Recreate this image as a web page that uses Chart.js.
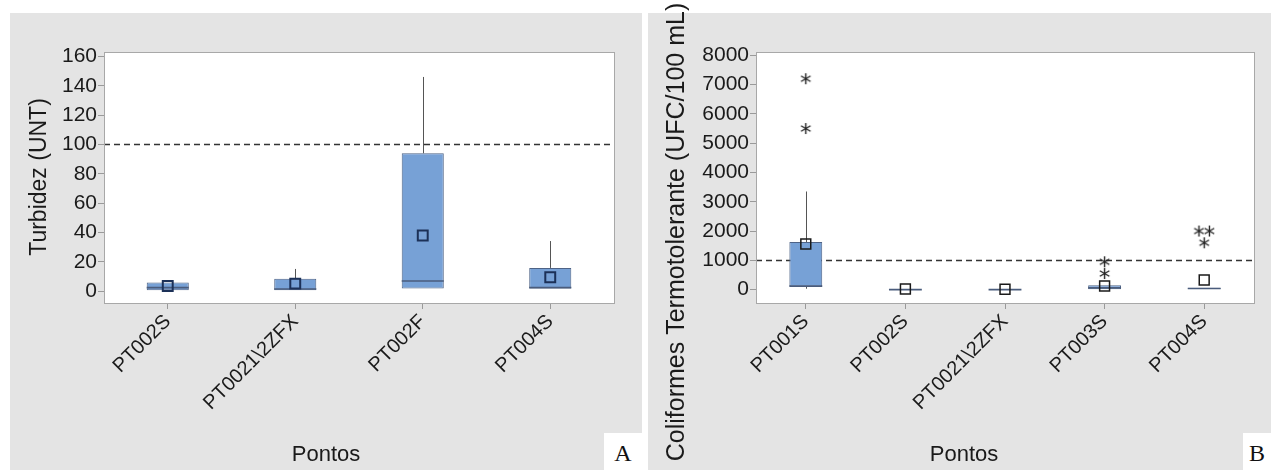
<!DOCTYPE html>
<html>
<head>
<meta charset="utf-8">
<script src="https://cdn.jsdelivr.net/npm/chart.js@4.4.0/dist/chart.umd.min.js"></script>
<style>
body { margin: 0; background: #fff; width: 1271px; height: 470px; position: relative; overflow: hidden; }
canvas { position: absolute; top: 0; }
#chartA { left: 10px; }
#chartB { left: 648px; }
.tag { position: absolute; top: 433px; height: 37px; line-height: 40px; background: #fff; color: #111;
       font-family: "Liberation Serif", "Times New Roman", serif; font-size: 24px; text-align: center; }
#tagA { left: 604px; width: 38px; }
#tagB { left: 1243px; width: 28px; }
</style>
</head>
<body>
<canvas id="chartA" width="632" height="470"></canvas>
<canvas id="chartB" width="623" height="470"></canvas>
<div class="tag" id="tagA">A</div>
<div class="tag" id="tagB">B</div>
<script>
// ---- painel A: turbidez ----
var pontosA = ["PT002S", "PT0021\\2ZFX", "PT002F", "PT004S"];
var q1A = [0.7, 0.7, 1.8, 1.8];
var medianaA = [2.5, 1.5, 7, 2.5];
var q3A = [5.9, 8.6, 94, 15.9];
var minA = [0.7, 0.7, 1.8, 1.8];
var maxA = [5.9, 15.2, 146, 34.2];
var mediaA = [3.6, 5.2, 38, 9.5];
var outPontoA = [];
var outValorA = [];
var limiteA = 100;
var ticksA = [0, 20, 40, 60, 80, 100, 120, 140, 160];

// ---- painel B: coliformes ----
var pontosB = ["PT001S", "PT002S", "PT0021\\2ZFX", "PT003S", "PT004S"];
var q1B = [110, 0, 0, 10, 20];
var medianaB = [120, 0, 0, 60, 40];
var q3B = [1625, 0, 0, 150, 60];
var minB = [30, 0, 0, 10, 20];
var maxB = [3350, 0, 0, 150, 60];
var mediaB = [1560, 20, 10, 125, 330];
var outPontoB = [0, 0, 3, 3, 4, 4, 4];
var outValorB = [7200, 5500, 950, 550, 2000, 2000, 1600];
var limiteB = 1000;
var ticksB = [0, 1000, 2000, 3000, 4000, 5000, 6000, 7000, 8000];

Chart.defaults.font.family = "'Liberation Sans', Arial, sans-serif";
Chart.defaults.color = "#1a1a1a";

var boxFill = "#77a1d6";
var boxLine = "#4e6386";

// asterisco de 6 pontas (outliers, estilo Minitab)
function makeStar(size) {
    var c = document.createElement("canvas");
    c.width = size; c.height = size;
    var g = c.getContext("2d");
    var r = size / 2 - 1;
    g.strokeStyle = "#222";
    g.lineWidth = 1.4;
    g.translate(size / 2, size / 2);
    for (var k = 0; k < 3; k++) {
        var a = Math.PI / 2 + k * Math.PI / 3;
        g.beginPath();
        g.moveTo(Math.cos(a) * r, Math.sin(a) * r);
        g.lineTo(-Math.cos(a) * r, -Math.sin(a) * r);
        g.stroke();
    }
    return c;
}
var star = makeStar(13);

// pontos repetidos no mesmo ponto ficam lado a lado
function outlierPoints(cats, vals) {
    return cats.map(function (c, i) {
        var same = [], pos = 0;
        cats.forEach(function (c2, j) {
            if (c2 === c && vals[j] === vals[i]) { if (j < i) pos++; same.push(j); }
        });
        return { x: c + (pos - (same.length - 1) / 2) * 0.105, y: vals[i] };
    });
}

function boxPlugin(s) {
    return {
        id: "boxExtras",
        beforeDraw: function (chart) {
            var ctx = chart.ctx, a = chart.chartArea;
            ctx.save();
            ctx.fillStyle = "#e4e4e4";
            ctx.fillRect(0, 13, chart.width, chart.height - 13);
            ctx.fillStyle = "#fff";
            ctx.fillRect(a.left, a.top, a.right - a.left, a.bottom - a.top);
            ctx.restore();
        },
        beforeDatasetsDraw: function (chart) {
            var ctx = chart.ctx, a = chart.chartArea, xs = chart.scales.x, ys = chart.scales.y;
            ctx.save();
            // linha de referencia
            var yl = Math.round(ys.getPixelForValue(s.limite)) + 0.5;
            ctx.strokeStyle = "#333";
            ctx.lineWidth = 1.6;
            ctx.setLineDash([6, 4]);
            ctx.beginPath();
            ctx.moveTo(a.left, yl);
            ctx.lineTo(a.right, yl);
            ctx.stroke();
            ctx.setLineDash([]);
            // bigodes
            ctx.strokeStyle = "#555";
            ctx.lineWidth = 1;
            s.min.forEach(function (lo, i) {
                var x = Math.round(xs.getPixelForValue(i)) + 0.5;
                ctx.beginPath();
                ctx.moveTo(x, ys.getPixelForValue(s.max[i]));
                ctx.lineTo(x, ys.getPixelForValue(s.q3[i]));
                ctx.moveTo(x, ys.getPixelForValue(s.q1[i]));
                ctx.lineTo(x, ys.getPixelForValue(lo));
                ctx.stroke();
            });
            ctx.restore();
        },
        afterDatasetDraw: function (chart, args) {
            if (args.index !== 0) return;
            var ctx = chart.ctx, ys = chart.scales.y;
            ctx.save();
            ctx.strokeStyle = "#4a5c7c";
            ctx.lineWidth = 1.6;
            args.meta.data.forEach(function (bar, i) {
                var y = ys.getPixelForValue(s.mediana[i]);
                ctx.beginPath();
                ctx.moveTo(bar.x - bar.width / 2, y);
                ctx.lineTo(bar.x + bar.width / 2, y);
                ctx.stroke();
            });
            ctx.restore();
        },
        afterDraw: function (chart) {
            var ctx = chart.ctx, a = chart.chartArea;
            ctx.save();
            ctx.strokeStyle = "#a8a8a8";
            ctx.lineWidth = 1;
            ctx.strokeRect(Math.round(a.left) + 0.5, Math.round(a.top) + 0.5,
                Math.round(a.right - a.left), Math.round(a.bottom - a.top));
            ctx.fillStyle = "#1a1a1a";
            ctx.textAlign = "center";
            ctx.textBaseline = "middle";
            ctx.font = s.yTitle[3] + "px 'Liberation Sans', Arial, sans-serif";
            ctx.translate(s.yTitle[1], s.yTitle[2]);
            ctx.rotate(-Math.PI / 2);
            ctx.fillText(s.yTitle[0], 0, 0);
            ctx.restore();
            ctx.save();
            ctx.fillStyle = "#1a1a1a";
            ctx.textAlign = "center";
            ctx.textBaseline = "middle";
            ctx.font = "22px 'Liberation Sans', Arial, sans-serif";
            ctx.fillText("Pontos", s.xTitle[0], s.xTitle[1]);
            ctx.restore();
        }
    };
}

function boxChart(id, cats, s) {
    return new Chart(id, {
        type: "bar",
        data: {
            datasets: [{
                type: "bar",
                data: cats.map(function (c, i) { return { x: i, y: [s.q1[i], s.q3[i]] }; }),
                backgroundColor: boxFill,
                borderColor: boxLine,
                borderWidth: 1,
                borderSkipped: false,
                barPercentage: 0.33,
                categoryPercentage: 1,
                order: 3
            }, {
                type: "scatter",
                data: cats.map(function (c, i) { return { x: i, y: s.media[i] }; }),
                pointStyle: "rect",
                pointRadius: 7,
                borderColor: s.meanColor,
                borderWidth: s.meanWidth,
                backgroundColor: "rgba(0,0,0,0)",
                order: 2
            }, {
                type: "scatter",
                data: outlierPoints(s.outPonto, s.outValor),
                pointStyle: star,
                pointRadius: 6,
                order: 1
            }]
        },
        options: {
            responsive: false,
            animation: false,
            layout: { padding: { top: 52, right: s.padRight, left: 0, bottom: 0 } },
            plugins: { legend: { display: false }, tooltip: { enabled: false } },
            scales: {
                x: {
                    type: "linear",
                    min: -0.5,
                    max: cats.length - 0.5,
                    offset: false,
                    afterBuildTicks: function (scale) {
                        scale.ticks = cats.map(function (c, i) { return { value: i }; });
                    },
                    afterFit: function (scale) { scale.height = 167; },
                    ticks: {
                        autoSkip: false, maxRotation: 45, minRotation: 45, padding: 1,
                        font: { size: 20 },
                        callback: function (v) { return cats[v]; }
                    },
                    grid: { drawOnChartArea: false, tickLength: 6, color: "#9a9a9a", offset: false },
                    border: { color: "#a8a8a8" }
                },
                y: {
                    min: s.yMin,
                    max: s.yMax,
                    afterBuildTicks: function (scale) {
                        scale.ticks = s.ticks.map(function (v) { return { value: v }; });
                    },
                    afterFit: function (scale) { scale.width = s.yWidth; },
                    ticks: { padding: 1, font: { size: 21 }, callback: function (v) { return String(v); } },
                    grid: { drawOnChartArea: false, tickLength: 6, color: "#9a9a9a" },
                    border: { color: "#a8a8a8" }
                }
            }
        },
        plugins: [boxPlugin(s)]
    });
}

boxChart("chartA", pontosA, {
    q1: q1A, mediana: medianaA, q3: q3A, min: minA, max: maxA, media: mediaA,
    outPonto: outPontoA, outValor: outValorA, limite: limiteA, ticks: ticksA,
    yMin: -8, yMax: 163, yWidth: 94, padRight: 28,
    meanColor: "#1c3158", meanWidth: 2,
    yTitle: ["Turbidez (UNT)", 30, 177, 23], xTitle: [316, 455]
});

boxChart("chartB", pontosB, {
    q1: q1B, mediana: medianaB, q3: q3B, min: minB, max: maxB, media: mediaB,
    outPonto: outPontoB, outValor: outValorB, limite: limiteB, ticks: ticksB,
    yMin: -457, yMax: 8113, yWidth: 108, padRight: 17,
    meanColor: "#1a1a1a", meanWidth: 1.5,
    yTitle: ["Coliformes Termotolerante (UFC/100 mL)", 29, 232, 25], xTitle: [316, 455]
});
</script>
</body>
</html>
